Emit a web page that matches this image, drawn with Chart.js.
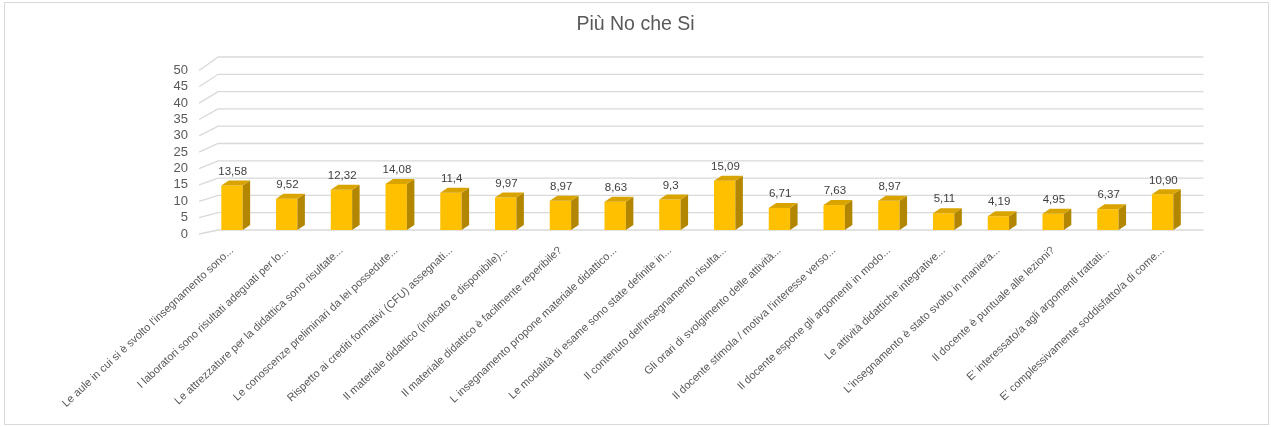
<!DOCTYPE html>
<html>
<head>
<meta charset="utf-8">
<script src="https://cdn.jsdelivr.net/npm/chart.js@4"></script>
<style>
  html, body { margin: 0; padding: 0; background: #fff; }
  #wrap { position: relative; width: 1271px; height: 427px; }
  #frame { position: absolute; left: 4px; top: 2px; width: 1263px; height: 421px; border: 1px solid #d9d9d9; pointer-events: none; }
</style>
</head>
<body>
<div id="wrap">
  <canvas id="chart" width="1271" height="427"></canvas>
  <div id="frame"></div>
</div>
<script>
// categories (as shown, already truncated in the source chart)
const categories = [
  "Le aule in cui si è svolto l'insegnamento sono...",
  "I laboratori sono risultati adeguati per lo...",
  "Le attrezzature per la didattica sono risultate...",
  "Le conoscenze preliminari da lei possedute...",
  "Rispetto ai crediti formativi (CFU) assegnati...",
  "Il materiale didattico (indicato e disponibile)...",
  "Il materiale didattico è facilmente reperibile?",
  "L insegnamento propone materiale didattico...",
  "Le modalità di esame sono state definite in...",
  "Il contenuto dell'insegnamento risulta...",
  "Gli orari di svolgimento delle attività...",
  "Il docente stimola / motiva l'interesse verso...",
  "Il docente espone gli argomenti in modo...",
  "Le attività didattiche integrative...",
  "L'insegnamento è stato svolto in maniera...",
  "Il docente è puntuale alle lezioni?",
  "E' interessato/a agli argomenti trattati...",
  "E' complessivamente soddisfatto/a di come..."
];
const values = [13.58, 9.52, 12.32, 14.08, 11.4, 9.97, 8.97, 8.63, 9.3, 15.09, 6.71, 7.63, 8.97, 5.11, 4.19, 4.95, 6.37, 10.90];
const valueLabels = ["13,58", "9,52", "12,32", "14,08", "11,4", "9,97", "8,97", "8,63", "9,3", "15,09", "6,71", "7,63", "8,97", "5,11", "4,19", "4,95", "6,37", "10,90"];
const yTicks = [0, 5, 10, 15, 20, 25, 30, 35, 40, 45, 50];

const DX = 7.5, DY = -5;          // depth of the bars
const WALL_DX = 13.5;              // back wall shift
const FRONT_DX = -5.5;             // front edge of the side wall

const box3d = {
  id: 'box3d',
  beforeDatasetsDraw(chart) {
    const ctx = chart.ctx, area = chart.chartArea;
    const yl = chart.scales.y, yg = chart.scales.yg;
    ctx.save();
    ctx.strokeStyle = '#d9d9d9';
    ctx.lineWidth = 1.3;
    yTicks.forEach(v => {
      const yf = yl.getPixelForValue(v);
      const yb = yg.getPixelForValue(v);
      ctx.beginPath();
      ctx.moveTo(area.left + FRONT_DX, yf);
      ctx.lineTo(area.left + WALL_DX, yb);
      ctx.lineTo(area.right + WALL_DX, yb);
      ctx.stroke();
    });
    ctx.restore();
  },
  afterDatasetsDraw(chart) {
    const ctx = chart.ctx;
    const meta = chart.getDatasetMeta(0);
    ctx.save();
    meta.data.forEach((bar, i) => {
      const p = bar.getProps(['x', 'y', 'base', 'width'], true);
      const l = p.x - p.width / 2, r = p.x + p.width / 2;
      // side face
      ctx.fillStyle = '#b38600';
      ctx.beginPath();
      ctx.moveTo(r, p.y);
      ctx.lineTo(r + DX, p.y + DY);
      ctx.lineTo(r + DX, p.base + DY);
      ctx.lineTo(r, p.base);
      ctx.closePath();
      ctx.fill();
      // top face
      ctx.fillStyle = '#d9a300';
      ctx.beginPath();
      ctx.moveTo(l, p.y);
      ctx.lineTo(l + DX, p.y + DY);
      ctx.lineTo(r + DX, p.y + DY);
      ctx.lineTo(r, p.y);
      ctx.closePath();
      ctx.fill();
      // value label
      ctx.fillStyle = '#404040';
      ctx.font = '11.5px "Liberation Sans", Arial, sans-serif';
      ctx.textAlign = 'center';
      ctx.textBaseline = 'middle';
      ctx.fillText(valueLabels[i], p.x + DX / 2 - 3, p.y + DY - 9);
    });
    ctx.restore();
  }
};

new Chart(document.getElementById('chart'), {
  type: 'bar',
  data: {
    labels: categories,
    datasets: [{
      data: values,
      yAxisID: 'yb',
      backgroundColor: '#ffc000',
      borderWidth: 0,
      categoryPercentage: 1,
      barPercentage: 0.39
    }]
  },
  options: {
    responsive: false,
    animation: false,
    events: [],
    layout: { padding: { left: 0, right: 0, top: 0, bottom: 2 } },
    plugins: {
      legend: { display: false },
      tooltip: { enabled: false },
      title: {
        display: true,
        text: 'Più No che Si',
        color: '#595959',
        font: { family: '"Liberation Sans", Arial, sans-serif', size: 19.5, weight: 'normal' },
        padding: { top: 13, bottom: 20.6 }
      }
    },
    scales: {
      x: {
        grid: { display: false },
        border: { display: false },
        ticks: {
          color: '#595959',
          font: { family: '"Liberation Sans", Arial, sans-serif', size: 11 },
          minRotation: 43,
          maxRotation: 43,
          autoSkip: false,
          padding: 6
        },
        afterFit(scale) { scale.height = 195; }
      },
      y: {
        position: 'left',
        min: 1.22,
        max: 54.1,
        grid: { display: false, drawTicks: false },
        border: { display: false },
        afterBuildTicks(scale) { scale.ticks = yTicks.map(v => ({ value: v })); },
        ticks: {
          color: '#595959',
          font: { family: '"Liberation Sans", Arial, sans-serif', size: 13 },
          autoSkip: false,
          padding: 16.6
        },
        afterFit(scale) { scale.width = 204.6; }
      },
      yr: {
        position: 'right',
        grid: { display: false, drawTicks: false },
        border: { display: false },
        ticks: { display: false },
        afterFit(scale) { scale.width = 81; }
      },
      yb: { display: false, min: 0, max: 52.9 },
      yg: { display: false, min: 0, max: 50 }
    }
  },
  plugins: [box3d]
});
</script>
</body>
</html>
